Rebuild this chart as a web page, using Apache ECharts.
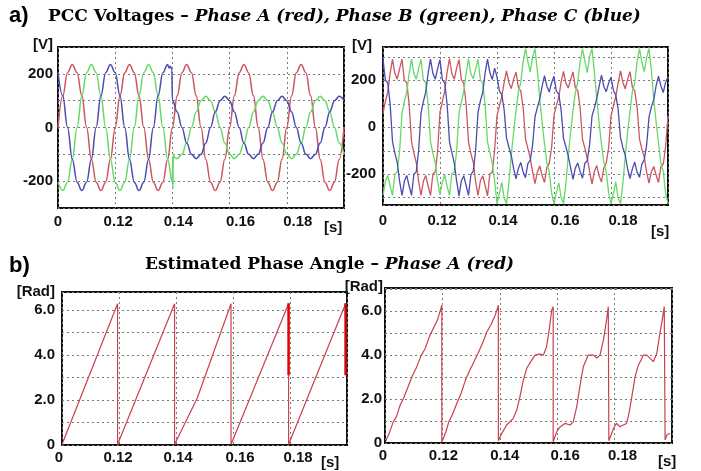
<!DOCTYPE html>
<html><head><meta charset="utf-8">
<script src="https://cdn.jsdelivr.net/npm/echarts@6/dist/echarts.min.js"></script>
<style>html,body{margin:0;padding:0;background:#fff}#c{width:701px;height:471px}</style>
</head><body><div id="c"></div>
<script>
// ---------- tick labels ----------
const xTickValues = [0.10, 0.12, 0.14, 0.16, 0.18];
const xTickLabels = ['0', '0.12', '0.14', '0.16', '0.18'];
const vTickValues = [-200, 0, 200];
const vTickLabels = ['-200', '0', '200'];
const radTickValues = [0, 2, 4, 6];
const radTickLabels = ['0', '2.0', '4.0', '6.0'];

// ---------- a) left: PCC voltages (sampled every 1/600 s from 0.10 s) ----------
const redA = [0,118,204,235,204,118,0,-118,-204,-235,-204,-118,
  0,118,204,235,204,118,0,-118,-204,-235,-204,-118,
  0,118,204,235,204,118,0,-118,-204,-235,-204,-118,
  0,118,204,235,204,118,0,-118,-204,-235,-204,-118,
  0,118,204,235,204,118,0,-118,-204,-235,-204,-118, 0];
const greenApre = [-204,-235,-204,-118,0,118,204,235,204,118,0,-118,
  -204,-235,-204,-118,0,118,204,235,204,118,0,-118, -204];
const greenFaultT = [0.1401, 0.1402, 0.1403, 0.1408];
const greenFaultV = [-110, -228, -100, -112];
const greenApost = [-116,-100,-58,0,58,100,116,100,58,0,-58,
  -100,-116,-100,-58,0,58,100,116,100,58,0,-58,
  -100,-116,-100,-58,0,58,100,116,100,58,0,-58, -100];
const blueApre = [204,118,0,-118,-204,-235,-204,-118,0,118,204,235,
  204,118,0,-118,-204,-235,-204,-118,0,118,204,235];
const blueNotchT = [0.1388, 0.1393, 0.1398, 0.1400];
const blueNotchV = [222, 228, 216, 102];
const blueApost = [58,0,-58,-100,-116,-100,-58,0,58,100,116,
  100,58,0,-58,-100,-116,-100,-58,0,58,100,116,
  100,58,0,-58,-100,-116,-100,-58,0,58,100,116, 100];

// ---------- a) right: distorted PCC voltages (sampled every 1/1200 s from 0.10 s) ----------
const redB = [
  60,110,150,230,290,230,205,250,290,200,190,100,-60,-110,-150,-230,-290,-230,-205,-250,-290,-200,-190,-100,
  65,110,155,235,292,228,205,252,288,202,188,98,-62,-112,-148,-232,-290,-228,-207,-248,-292,-198,-192,-98,
  50,90,130,190,240,190,165,205,235,170,155,85,-50,-90,-130,-190,-240,-190,-165,-205,-235,-170,-155,-85,
  52,92,128,192,238,188,167,203,236,168,157,83,-52,-88,-132,-188,-242,-188,-163,-207,-233,-172,-153,-87,
  48,90,132,188,240,192,163,205,237,170,155,85,-50,-92,-128,-190,-238,-190,-167,-203,-235,-168,-157,-83,
  50];
const greenB = [
  -290,-230,-205,-250,-290,-200,-190,-100,60,110,150,230,290,230,205,250,290,200,190,100,-60,-110,-150,-230,
  -288,-232,-203,-252,-290,-198,-192,-102,62,108,152,228,292,228,207,248,290,202,188,98,-62,-108,-152,-228,
  -325,-280,-235,-300,-325,-240,-120,-20,70,150,190,280,335,280,235,300,335,240,120,20,-70,-150,-190,-280,
  -325,-278,-237,-298,-325,-242,-118,-22,72,148,192,278,335,282,233,302,335,238,122,18,-72,-148,-192,-278,
  -325,-282,-233,-302,-325,-238,-122,-18,68,152,188,282,335,278,237,298,335,242,118,22,-68,-152,-188,-282,
  -325];
const blueB = [
  290,200,190,100,-60,-110,-150,-230,-290,-230,-205,-250,-290,-200,-190,-100,60,110,150,230,290,230,205,250,
  288,202,188,98,-62,-108,-152,-228,-292,-228,-207,-248,-290,-202,-188,-98,62,112,148,232,290,232,203,252,
  215,155,140,75,-45,-85,-120,-175,-220,-175,-150,-190,-215,-155,-140,-75,45,85,120,175,220,175,150,190,
  217,153,142,73,-47,-83,-122,-173,-222,-173,-152,-188,-217,-153,-142,-73,47,83,122,173,222,173,152,188,
  213,157,138,77,-43,-87,-118,-177,-218,-177,-148,-192,-213,-157,-138,-77,43,87,118,177,218,177,148,192,
  215];

// ---------- b) left: estimated phase angle ----------
const angLT = [0.1000,0.1195,0.1195,0.1200,0.1395,0.1395,0.1400,0.1475,0.1593,0.1593,0.1600,0.1795,0.1795,0.1800,0.1995];
const angLV = [0.02,6.28,0.02,0.02,6.28,0.02,0.02,2.10,6.28,0.02,0.02,6.28,0.02,0.02,6.28];
const spikeT1 = [0.1795, 0.1795];
const spikeT2 = [0.1995, 0.1995];
const spikeV = [3.1, 6.3];

// ---------- b) right: estimated phase angle (distorted) ----------
const angRT = [
  0.1003,0.1015,0.1029,0.1040,0.1052,0.1065,0.1080,0.1095,0.1110,0.1125,0.1140,0.1155,0.1170,0.1183,0.1192,0.1198,0.1198,
  0.1203,0.1212,0.1222,0.1235,0.1250,0.1265,0.1280,0.1295,0.1310,0.1325,0.1340,0.1355,0.1370,0.1382,0.1390,0.1395,0.1395,
  0.1400,0.1407,0.1424,0.1447,0.1459,0.1470,0.1482,0.1494,0.1511,0.1523,0.1540,0.1552,0.1563,0.1572,0.1581,0.1586,0.1586,
  0.1592,0.1598,0.1610,0.1627,0.1645,0.1656,0.1668,0.1679,0.1691,0.1697,0.1708,0.1726,0.1738,0.1749,0.1761,0.1772,0.1778,0.1780,
  0.1784,0.1790,0.1799,0.1807,0.1819,0.1830,0.1842,0.1850,0.1860,0.1871,0.1883,0.1892,0.1900,0.1912,0.1923,0.1935,0.1947,0.1958,0.1966,0.1973,0.1976,0.1982,0.1993];
const angRV = [
  0.10,0.45,0.97,1.20,1.70,2.05,2.55,3.05,3.45,3.95,4.30,4.85,5.25,5.60,6.00,6.27,0.05,
  0.10,0.50,0.95,1.30,1.80,2.25,2.85,3.30,3.70,4.10,4.55,5.05,5.40,5.75,6.05,6.27,0.10,
  0.25,0.44,0.82,1.12,1.50,2.10,2.86,3.40,3.77,4.00,4.05,4.00,4.38,5.14,6.05,6.20,0.05,
  0.14,0.50,0.73,0.89,0.82,0.96,1.65,2.56,3.47,3.55,4.00,4.00,3.86,4.00,4.68,5.60,6.20,0.10,
  0.14,0.44,0.74,0.89,0.74,0.82,0.89,1.35,2.10,3.00,3.55,3.77,4.00,4.00,3.86,3.70,4.08,5.00,5.60,6.20,0.14,0.36,0.44];

// ---------- helpers ----------
const tA = Array.from({length: redA.length}, (_, i) => +(0.1 + i / 600).toFixed(6));
const tB = Array.from({length: redB.length}, (_, i) => +(0.1 + i / 1200).toFixed(6));
const zip = (t, v) => v.map((y, i) => [t[i], y]);

const greenAData = zip(tA.slice(0, 25), greenApre)
  .concat(zip(greenFaultT, greenFaultV))
  .concat(zip(tA.slice(25), greenApost));
const blueAData = zip(tA.slice(0, 24), blueApre)
  .concat(zip(blueNotchT, blueNotchV))
  .concat(zip(tA.slice(25), blueApost));

const SANS = '"Liberation Sans", Arial, sans-serif';
const SERIF = '"DejaVu Serif", "Liberation Serif", serif';
const RED = '#cc5562', GREEN = '#66d966', BLUE = '#4b4bb0', ANG = '#c9404e';
const GRIDLINE = {show: true, lineStyle: {color: '#7a7a7a', type: [2, 3], width: 1}};
const labelFont = {color: '#111', fontWeight: 'bold', fontSize: 15, fontFamily: SANS};

function xAxisFor(gi, offsets, margin, nameGap, nameDown) {
  const rich = {};
  offsets.forEach((o, i) => {
    rich['o' + i] = Object.assign({}, labelFont, {padding: o >= 0 ? [0, 0, 0, 2 * o] : [0, -2 * o, 0, 0]});
  });
  return {
    type: 'value', gridIndex: gi, min: 0.1, max: 0.2, interval: 0.02,
    axisLine: {show: false, onZero: false}, axisTick: {show: false}, splitLine: GRIDLINE,
    axisLabel: Object.assign({}, labelFont, {margin: margin, rich: rich,
      formatter: v => {
        for (let i = 0; i < xTickValues.length; i++) {
          if (Math.abs(v - xTickValues[i]) < 1e-6) return '{o' + i + '|' + xTickLabels[i] + '}';
        }
        return '';
      }}),
    name: '[s]', nameLocation: 'end', nameGap: nameGap,
    nameTextStyle: Object.assign({}, labelFont, {align: 'left', verticalAlign: 'top', lineHeight: 2 * nameDown})
  };
}
function yAxisFor(gi, opts) {
  const o = {
    type: 'value', gridIndex: gi, min: opts.min, max: opts.max,
    axisLine: {show: false, onZero: false}, axisTick: {show: false}, splitLine: GRIDLINE,
    axisLabel: Object.assign({}, labelFont, {margin: opts.margin,
      formatter: v => {
        for (let i = 0; i < opts.vals.length; i++) {
          if (Math.abs(v - opts.vals[i]) < 1e-6) return opts.labels[i];
        }
        return '';
      }}),
    name: opts.name, nameLocation: 'end', nameGap: opts.nameGap,
    nameTextStyle: Object.assign({}, labelFont, {align: 'right', verticalAlign: 'middle', padding: [0, opts.namePadRight, 0, 0]})
  };
  if (opts.interval) o.interval = opts.interval; else o.splitNumber = opts.splitNumber;
  return o;
}
const gridStyle = {show: true, borderColor: '#111', borderWidth: 2, backgroundColor: '#fff', containLabel: false, outerBoundsMode: 'none'};
function line(name, data, xi, color, width, smooth) {
  return {name: name, type: 'line', xAxisIndex: xi, yAxisIndex: xi, data: data, showSymbol: false, symbol: 'none',
    smooth: smooth || false, smoothMonotone: 'x', lineStyle: {color: color, width: width}, itemStyle: {color: color},
    animation: false, z: 3};
}

const chart = echarts.init(document.getElementById('c'), null, {renderer: 'canvas'});
const titleRich = {
  b: {fontFamily: SERIF, fontWeight: 'bold', fontSize: 17, color: '#000'},
  i: {fontFamily: SERIF, fontWeight: 'bold', fontStyle: 'italic', fontSize: 17, color: '#000'}
};
chart.setOption({
  backgroundColor: '#fff',
  animation: false,
  title: [
    {text: 'a)', left: 9, top: 5, padding: 0, textStyle: {fontFamily: SANS, fontWeight: 'bold', fontSize: 22, color: '#000'}},
    {text: '{b|PCC Voltages – }{i|Phase A (red), Phase B (green), Phase C (blue)}', left: 48, top: 8, padding: 0,
      textStyle: {rich: titleRich}},
    {text: 'b)', left: 9, top: 255, padding: 0, textStyle: {fontFamily: SANS, fontWeight: 'bold', fontSize: 22, color: '#000'}},
    {text: '{b|Estimated Phase Angle – }{i|Phase A (red)}', left: 145, top: 256, padding: 0,
      textStyle: {rich: titleRich}}
  ],
  grid: [
    Object.assign({left: 58, top: 47, width: 286, height: 161}, gridStyle),
    Object.assign({left: 383, top: 47, width: 285, height: 158}, gridStyle),
    Object.assign({left: 62, top: 292, width: 285, height: 153}, gridStyle),
    Object.assign({left: 385, top: 288, width: 287, height: 155}, gridStyle)
  ],
  xAxis: [
    xAxisFor(0, [0, 3, 6, 11, 11], 6, -20, 20),
    xAxisFor(1, [0, 2, 6, 11, 12], 8, -17, 27),
    xAxisFor(2, [-3, -1, 2, 7, 8], 5, -26, 18),
    xAxisFor(3, [-2, 1, 5, 8, 8], 5, -14, 19)
  ],
  yAxis: [
    yAxisFor(0, {min: -300, max: 300, interval: 100, vals: vTickValues, labels: vTickLabels, margin: 5, name: '[V]', nameGap: 2, namePadRight: 5}),
    yAxisFor(1, {min: -331, max: 342, splitNumber: 7, vals: vTickValues, labels: vTickLabels, margin: 7, name: '[V]', nameGap: 1, namePadRight: 11}),
    yAxisFor(2, {min: 0, max: 6.8, splitNumber: 7, vals: radTickValues, labels: radTickLabels, margin: 7, name: '[Rad]', nameGap: 0, namePadRight: 7}),
    yAxisFor(3, {min: 0, max: 7.05, splitNumber: 7, vals: radTickValues, labels: radTickLabels, margin: 3, name: '[Rad]', nameGap: 1, namePadRight: 2})
  ],
  series: [
    line('Phase A', zip(tA, redA), 0, RED, 1.5, 0.4),
    line('Phase B', greenAData, 0, GREEN, 1.5, 0.4),
    line('Phase C', blueAData, 0, BLUE, 1.5, 0.4),
    line('Phase A', zip(tB, redB), 1, RED, 1.3),
    line('Phase B', zip(tB, greenB), 1, GREEN, 1.3),
    line('Phase C', zip(tB, blueB), 1, BLUE, 1.3),
    line('Angle', zip(angLT, angLV), 2, ANG, 1.2),
    line('Angle spike 1', zip(spikeT1, spikeV), 2, '#e00000', 2.5),
    line('Angle spike 2', zip(spikeT2, spikeV), 2, '#e00000', 2.5),
    line('Angle', zip(angRT, angRV), 3, ANG, 1.2)
  ]
});
</script></body></html>
